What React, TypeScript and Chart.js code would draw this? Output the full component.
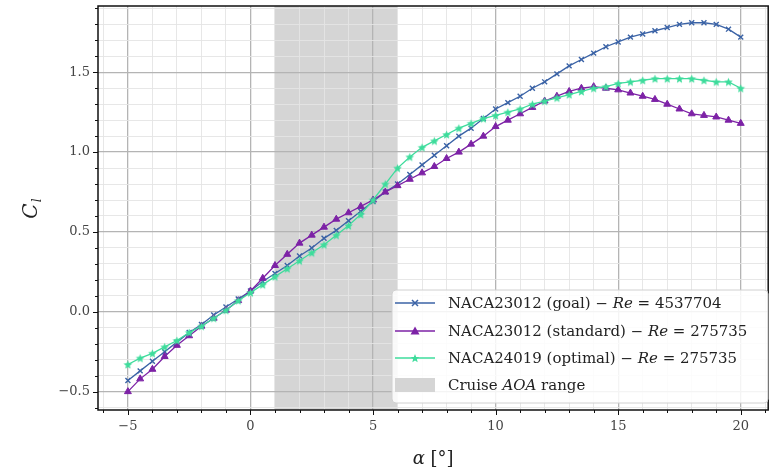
import React, { useEffect, useRef } from 'react';
import { Chart, registerables } from 'chart.js';
Chart.register(...registerables);

const ALPHA = [-5, -4.5, -4, -3.5, -3, -2.5, -2, -1.5, -1, -0.5, 0, 0.5, 1, 1.5, 2, 2.5, 3, 3.5, 4, 4.5, 5, 5.5, 6, 6.5, 7, 7.5, 8, 8.5, 9, 9.5, 10, 10.5, 11, 11.5, 12, 12.5, 13, 13.5, 14, 14.5, 15, 15.5, 16, 16.5, 17, 17.5, 18, 18.5, 19, 19.5, 20];
const CL_GOAL = [-0.43, -0.37, -0.31, -0.25, -0.19, -0.13, -0.08, -0.02, 0.03, 0.08, 0.13, 0.19, 0.24, 0.29, 0.35, 0.40, 0.46, 0.51, 0.57, 0.63, 0.69, 0.75, 0.80, 0.86, 0.92, 0.98, 1.04, 1.10, 1.15, 1.21, 1.27, 1.31, 1.35, 1.40, 1.44, 1.49, 1.54, 1.58, 1.62, 1.66, 1.69, 1.72, 1.74, 1.76, 1.78, 1.80, 1.81, 1.81, 1.80, 1.77, 1.72];
const CL_STANDARD = [-0.50, -0.42, -0.36, -0.28, -0.21, -0.15, -0.09, -0.04, 0.01, 0.07, 0.13, 0.21, 0.29, 0.36, 0.43, 0.48, 0.53, 0.58, 0.62, 0.66, 0.70, 0.75, 0.79, 0.83, 0.87, 0.91, 0.96, 1.00, 1.05, 1.10, 1.16, 1.20, 1.24, 1.28, 1.32, 1.35, 1.38, 1.40, 1.41, 1.40, 1.39, 1.37, 1.35, 1.33, 1.30, 1.27, 1.24, 1.23, 1.22, 1.20, 1.18];
const CL_OPTIMAL = [-0.33, -0.29, -0.26, -0.22, -0.18, -0.13, -0.09, -0.04, 0.01, 0.07, 0.12, 0.17, 0.22, 0.27, 0.32, 0.37, 0.42, 0.48, 0.54, 0.61, 0.70, 0.80, 0.90, 0.97, 1.03, 1.07, 1.11, 1.15, 1.18, 1.21, 1.23, 1.25, 1.27, 1.30, 1.32, 1.34, 1.36, 1.38, 1.40, 1.41, 1.43, 1.44, 1.45, 1.46, 1.46, 1.46, 1.46, 1.45, 1.44, 1.44, 1.40];

const SERIES_NAMES = ['NACA23012 (goal)', 'NACA23012 (standard)', 'NACA24019 (optimal)'];
const SERIES_RE = ['4537704', '275735', '275735'];
const CRUISE_RANGE = [1, 6];
const CRUISE_LABEL = ['Cruise ', 'AOA', ' range'];
const X_MAJOR = [-5, 0, 5, 10, 15, 20];
const Y_MAJOR = [-0.5, 0, 0.5, 1.0, 1.5];
const X_LIMITS = [-6.22, 21.12];
const Y_LIMITS = [-0.615, 1.915];

const C_GOAL = '#3b63a6';
const C_STD = '#7d22a6';
const C_OPT = '#3edc9c';
const FONT = '"DejaVu Serif", serif';

function starPath(ctx: CanvasRenderingContext2D, cx: number, cy: number, ro: number, ri: number) {
  ctx.beginPath();
  for (let i = 0; i < 10; i++) {
    const r = i % 2 === 0 ? ro : ri;
    const a = -Math.PI / 2 + (i * Math.PI) / 5;
    const px = cx + r * Math.cos(a);
    const py = cy + r * Math.sin(a);
    if (i === 0) ctx.moveTo(px, py); else ctx.lineTo(px, py);
  }
  ctx.closePath();
}

function makeStar(color: string, ro: number) {
  const c = document.createElement('canvas');
  const s = Math.ceil(ro * 2 + 2);
  c.width = s; c.height = s;
  const g = c.getContext('2d')!;
  g.fillStyle = color;
  starPath(g, s / 2, s / 2 + 0.5, ro, ro * 0.45);
  g.fill();
  return c;
}

function isMult(v: number, step: number) {
  const q = v / step;
  return Math.abs(q - Math.round(q)) < 1e-6;
}

function drawMixed(ctx: CanvasRenderingContext2D, parts: [string, boolean][], x: number, y: number, size: number, sx = 1) {
  ctx.save();
  ctx.translate(x, y);
  ctx.scale(sx, 1);
  let cx = 0;
  for (const [t, it] of parts) {
    ctx.font = `${it ? 'italic ' : ''}${size}px ${FONT}`;
    ctx.fillText(t, cx, 0);
    cx += ctx.measureText(t).width;
  }
  ctx.restore();
}

const decor = {
  id: 'decor',
  beforeDraw(chart: any) {
    const { ctx, chartArea: a, scales } = chart;
    const x0 = scales.x.getPixelForValue(CRUISE_RANGE[0]);
    const x1 = scales.x.getPixelForValue(CRUISE_RANGE[1]);
    ctx.save();
    ctx.fillStyle = '#d5d5d5';
    ctx.fillRect(x0, a.top, x1 - x0, a.bottom - a.top);
    ctx.restore();
  },
  afterDraw(chart: any) {
    const { ctx, chartArea: a, scales } = chart;
    const sx = scales.x, sy = scales.y;
    ctx.save();
    // frame
    ctx.strokeStyle = '#111';
    ctx.lineWidth = 1.5;
    ctx.strokeRect(a.left, a.top, a.right - a.left, a.bottom - a.top);
    // ticks
    ctx.lineWidth = 1;
    ctx.beginPath();
    for (const t of sx.ticks) {
      const px = Math.round(sx.getPixelForValue(t.value)) + 0.5;
      const len = isMult(t.value, 5) ? 5 : 3;
      ctx.moveTo(px, a.bottom);
      ctx.lineTo(px, a.bottom + len);
    }
    for (const t of sy.ticks) {
      const py = Math.round(sy.getPixelForValue(t.value)) + 0.5;
      const len = isMult(t.value, 0.5) ? 5 : 3;
      ctx.moveTo(a.left, py);
      ctx.lineTo(a.left - len, py);
    }
    ctx.stroke();

    // axis titles
    ctx.fillStyle = '#222';
    ctx.textBaseline = 'alphabetic';
    ctx.textAlign = 'left';
    const cxm = (a.left + a.right) / 2;
    ctx.font = `italic 18px ${FONT}`;
    const wA = ctx.measureText('α').width;
    ctx.font = `18px ${FONT}`;
    const wB = ctx.measureText(' [°]').width;
    drawMixed(ctx, [['α', true], [' [°]', false]], cxm - (wA + wB) / 2, 464, 18);

    ctx.save();
    ctx.translate(37, (a.top + a.bottom) / 2);
    ctx.rotate(-Math.PI / 2);
    ctx.font = `italic 20px ${FONT}`;
    const wC = ctx.measureText('C').width;
    ctx.fillText('C', -wC / 2 - 3, 0);
    ctx.font = `italic 12px ${FONT}`;
    ctx.fillText('l', wC / 2 - 2, 4);
    ctx.restore();

    // legend
    const lx = 392, ly = 290, lw = 376, lh = 113;
    ctx.beginPath();
    if ((ctx as any).roundRect) (ctx as any).roundRect(lx, ly, lw, lh, 4); else ctx.rect(lx, ly, lw, lh);
    ctx.fillStyle = 'rgba(255,255,255,0.85)';
    ctx.fill();
    ctx.strokeStyle = '#d0d0d0';
    ctx.lineWidth = 1;
    ctx.stroke();

    const rows = [303, 331, 358, 385];
    const colors = [C_GOAL, C_STD, C_OPT];
    const hx0 = 395, hx1 = 435, hm = 415, tx = 448;
    ctx.textBaseline = 'middle';
    for (let i = 0; i < 3; i++) {
      const y = rows[i];
      ctx.strokeStyle = colors[i];
      ctx.fillStyle = colors[i];
      ctx.lineWidth = 1.3;
      ctx.beginPath(); ctx.moveTo(hx0, y); ctx.lineTo(hx1, y); ctx.stroke();
      if (i === 0) {
        ctx.lineWidth = 1.5;
        ctx.beginPath();
        ctx.moveTo(hm - 3, y - 3); ctx.lineTo(hm + 3, y + 3);
        ctx.moveTo(hm - 3, y + 3); ctx.lineTo(hm + 3, y - 3);
        ctx.stroke();
      } else if (i === 1) {
        ctx.beginPath();
        ctx.moveTo(hm, y - 4.5); ctx.lineTo(hm + 4.5, y + 3.5); ctx.lineTo(hm - 4.5, y + 3.5);
        ctx.closePath(); ctx.fill();
      } else {
        starPath(ctx, hm, y + 0.5, 4.5, 2);
        ctx.fill();
      }
      ctx.fillStyle = '#222';
      drawMixed(ctx, [[SERIES_NAMES[i] + ' − ', false], ['Re', true], [' = ' + SERIES_RE[i], false]], tx, y + 1, 14, 1.07);
    }
    ctx.fillStyle = '#d5d5d5';
    ctx.fillRect(hx0, rows[3] - 7, hx1 - hx0, 14);
    ctx.fillStyle = '#222';
    drawMixed(ctx, [[CRUISE_LABEL[0], false], [CRUISE_LABEL[1], true], [CRUISE_LABEL[2], false]], tx, rows[3] + 1, 14, 1.07);
    ctx.restore();
  },
};

export default function App() {
  const ref = useRef<HTMLCanvasElement>(null);
  useEffect(() => {
    const canvas = ref.current!;
    const star = makeStar(C_OPT, 4.5);
    const pts = (vals: number[]) => ALPHA.map((x, i) => ({ x, y: vals[i] }));
    const fmt = (v: number) => v.toFixed(1).replace('-', '−');
    const zeroPad = (s: any) => { s.paddingTop = 0; s.paddingBottom = 0; s.paddingLeft = 0; s.paddingRight = 0; };
    const chart = new Chart(canvas, {
      type: 'line',
      data: {
        datasets: [
          {
            label: SERIES_NAMES[0], data: pts(CL_GOAL), borderColor: C_GOAL, backgroundColor: C_GOAL,
            borderWidth: 1.3, pointStyle: 'crossRot', pointRadius: 3.5, pointBorderWidth: 1.4, order: 3, tension: 0,
          },
          {
            label: SERIES_NAMES[1], data: pts(CL_STANDARD), borderColor: C_STD, backgroundColor: C_STD,
            borderWidth: 1.3, pointStyle: 'triangle', pointRadius: 4, pointBorderWidth: 1, order: 2, tension: 0,
          },
          {
            label: SERIES_NAMES[2], data: pts(CL_OPTIMAL), borderColor: C_OPT, backgroundColor: C_OPT,
            borderWidth: 1.3, pointStyle: star as any, pointRadius: 4.5, order: 1, tension: 0,
          },
        ],
      },
      options: {
        animation: false,
        responsive: false,
        devicePixelRatio: 1,
        events: [],
        layout: { padding: { left: 0, right: -3, top: 6, bottom: 0 } },
        plugins: { legend: { display: false }, tooltip: { enabled: false } },
        scales: {
          x: {
            type: 'linear', min: X_LIMITS[0], max: X_LIMITS[1],
            border: { display: false },
            grid: {
              drawTicks: false,
              color: (c: any) => (X_MAJOR.some((m) => Math.abs(m - c.tick.value) < 1e-6) ? '#b4b4b4' : '#e4e4e4'),
              lineWidth: (c: any) => (X_MAJOR.some((m) => Math.abs(m - c.tick.value) < 1e-6) ? 1.3 : 0.9),
            },
            ticks: {
              stepSize: 1, includeBounds: false, autoSkip: false, maxRotation: 0, padding: 9,
              color: '#444', font: { family: FONT, size: 13 },
              callback: (v: any) => (X_MAJOR.some((m) => Math.abs(m - v) < 1e-6) ? String(v).replace('-', '−') : ''),
            },
            afterFit: (s: any) => { s.height = 62; zeroPad(s); },
          },
          y: {
            type: 'linear', min: Y_LIMITS[0], max: Y_LIMITS[1],
            border: { display: false },
            grid: {
              drawTicks: false,
              color: (c: any) => (Y_MAJOR.some((m) => Math.abs(m - c.tick.value) < 1e-6) ? '#b4b4b4' : '#e4e4e4'),
              lineWidth: (c: any) => (Y_MAJOR.some((m) => Math.abs(m - c.tick.value) < 1e-6) ? 1.3 : 0.9),
            },
            ticks: {
              stepSize: 0.1, includeBounds: false, autoSkip: false, padding: 8,
              color: '#444', font: { family: FONT, size: 13 },
              callback: (v: any) => (Y_MAJOR.some((m) => Math.abs(m - v) < 1e-6) ? fmt(Number(v)) : ''),
            },
            afterFit: (s: any) => { s.width = 98; zeroPad(s); },
          },
        },
      },
      plugins: [decor],
    } as any);
    return () => chart.destroy();
  }, []);
  return (
    <div style={{ position: 'absolute', left: 0, top: 0, width: 774, height: 472, background: '#fff' }}>
      <canvas ref={ref} width={774} height={472} style={{ display: 'block' }} />
    </div>
  );
}
